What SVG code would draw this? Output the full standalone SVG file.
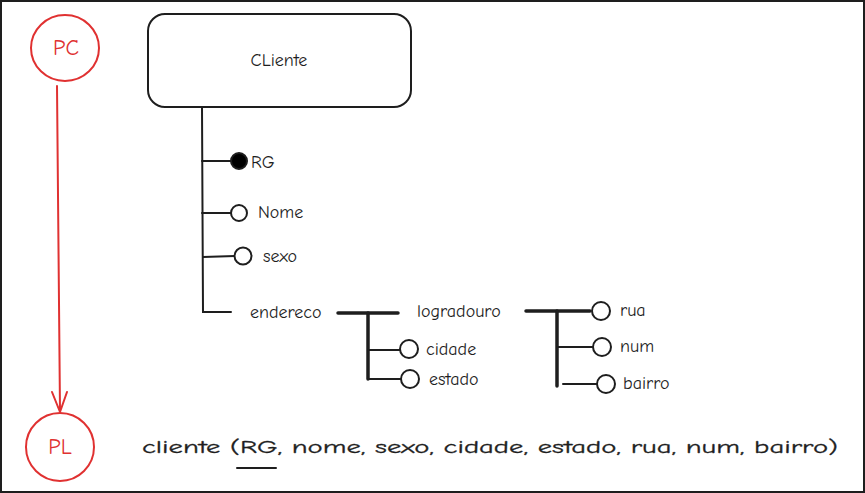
<svg xmlns="http://www.w3.org/2000/svg" width="865" height="493" viewBox="0 0 865 493">
<style>
.t{font-family:"Comic Neue","Liberation Sans",sans-serif;fill:#1e1e1e;font-size:18px;dominant-baseline:central}
.red{fill:none;stroke:#e03131;stroke-width:2;stroke-linecap:round;stroke-linejoin:round}
.rt{font-family:"Comic Neue","Liberation Sans",sans-serif;fill:#e03131;font-size:22px;text-anchor:middle;dominant-baseline:central}
.ln{stroke:#1e1e1e;stroke-width:2;fill:none;stroke-linecap:round}
.th{stroke:#1e1e1e;stroke-width:3.5;fill:none;stroke-linecap:round}
.oc{fill:#fff;stroke:#1e1e1e;stroke-width:2}
.fc{fill:#000;stroke:#1e1e1e;stroke-width:2}
</style>
<rect x="0" y="0" width="865" height="493" fill="#fff"/>
<rect x="1" y="1" width="863" height="491" fill="none" stroke="#1e1e1e" stroke-width="2"/>
<g id="connectors">
<path class="red" d="M57 86 L60 411"/>
<path class="red" d="M52 392 L60 412 L67 392"/>
<path class="ln" d="M202 107 L203 312 L231 312"/>
<path class="ln" d="M202 161 L231 161"/>
<path class="ln" d="M202 213 L231 213"/>
<path class="ln" d="M203 257 L235 256"/>
<path class="th" d="M338 313 L398 313"/>
<path class="th" d="M368 313 L368 379"/>
<path class="ln" d="M368 350 L400 350"/>
<path class="ln" d="M368 379 L401 379"/>
<path class="th" d="M526 311 L590 311"/>
<path class="th" d="M557 311 L557 386"/>
<path class="ln" d="M557 347 L593 347"/>
<path class="ln" d="M563 384 L597 384"/>
</g>
<g id="pc">
<ellipse class="red" cx="65" cy="48" rx="34" ry="33"/>
<text class="rt" x="66" y="48">PC</text>
</g>
<g id="pl">
<ellipse class="red" cx="60" cy="447" rx="34" ry="34"/>
<text class="rt" x="60" y="447">PL</text>
</g>
<g id="cliente">
<rect x="148" y="14" width="263" height="93" rx="17" fill="#fff" stroke="#1e1e1e" stroke-width="2"/>
<text class="t" x="279" y="60" text-anchor="middle" font-size="20">CLiente</text>
</g>
<g id="rg">
<circle class="fc" cx="239" cy="161" r="8"/>
<text class="t" x="251" y="162">RG</text>
</g>
<g id="nome">
<circle class="oc" cx="239" cy="213" r="8"/>
<text class="t" x="258" y="212">Nome</text>
</g>
<g id="sexo">
<circle class="oc" cx="243" cy="256" r="8.5"/>
<text class="t" x="263" y="256">sexo</text>
</g>
<g id="endereco">
<text class="t" x="250" y="312">endereco</text>
</g>
<g id="cidade">
<circle class="oc" cx="409" cy="349" r="9"/>
<text class="t" x="426" y="349">cidade</text>
</g>
<g id="estado">
<circle class="oc" cx="410" cy="379" r="9"/>
<text class="t" x="429" y="379">estado</text>
</g>
<g id="logradouro">
<text class="t" x="417" y="311">logradouro</text>
</g>
<g id="rua">
<circle class="oc" cx="601" cy="311" r="9"/>
<text class="t" x="620" y="310">rua</text>
</g>
<g id="num">
<circle class="oc" cx="602" cy="347" r="9"/>
<text class="t" x="620" y="346">num</text>
</g>
<g id="bairro">
<circle class="oc" cx="606" cy="384" r="9"/>
<text class="t" x="623" y="383">bairro</text>
</g>
<g id="pl-text">
<text class="t" x="142" y="447" font-size="28" stroke="#1e1e1e" stroke-width="0.3" textLength="696" lengthAdjust="spacingAndGlyphs">cliente (RG, nome, sexo, cidade, estado, rua, num, bairro)</text>
<path class="ln" d="M237 468 L276 468"/>
</g>
</svg>
